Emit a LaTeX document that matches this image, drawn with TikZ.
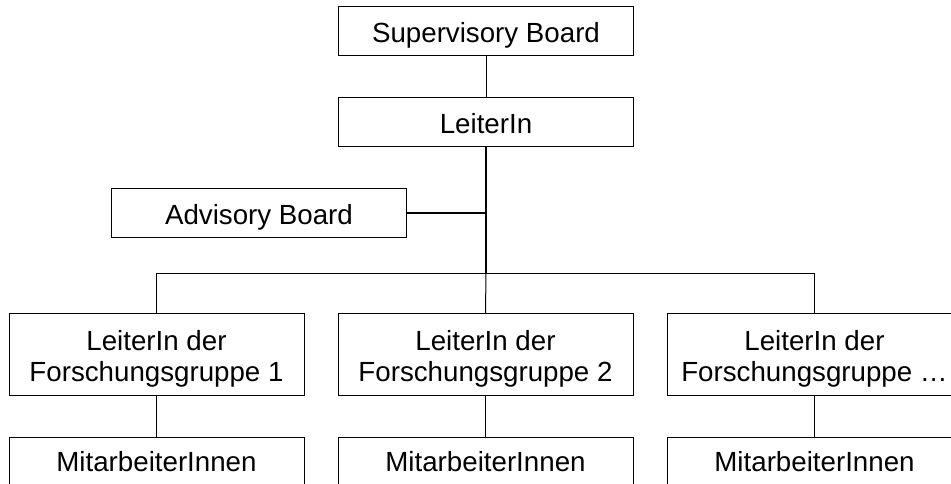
\documentclass[tikz,border=0pt]{standalone}
\usepackage{fontspec}
\setmainfont{Liberation Sans}
\begin{document}
\begin{tikzpicture}[x=1pt,y=-1pt,
  box/.style={draw=black,line width=1pt,fill=white,rectangle,inner sep=0pt,minimum width=295pt},
  sbox/.style={box,minimum height=49pt},
  tbox/.style={box,minimum height=82pt},
  txt/.style={inner sep=0pt,anchor=base,font=\fontsize{27.7}{31}\selectfont},
  thin/.style={line width=1pt},
  thick2/.style={line width=2pt}]
\useasboundingbox (0,0) rectangle (951,484);
\clip (0,0) rectangle (951,484);
% boxes
\node[sbox] (sup) at (486,31) {};
\node[sbox] (lei) at (486,122) {};
\node[sbox] (adv) at (259,213) {};
\node[tbox] (fg1) at (156.5,354.5) {};
\node[tbox] (fg2) at (485.5,354.5) {};
\node[tbox] (fg3) at (814.5,354.5) {};
\node[box,minimum height=60pt] (ma1) at (156.5,467.5) {};
\node[box,minimum height=60pt] (ma2) at (485.5,467.5) {};
\node[box,minimum height=60pt] (ma3) at (814.5,467.5) {};
% texts
\node[txt] (supt) at (486,43) {Supervisory Board};
\node[txt] (leit) at (486,134) {LeiterIn};
\node[txt] (advt) at (259,225) {Advisory Board};
\node[txt] (fg1a) at (156.5,350) {LeiterIn der};
\node[txt] (fg1b) at (156.5,381) {Forschungsgruppe 1};
\node[txt] (fg2a) at (485.5,350) {LeiterIn der};
\node[txt] (fg2b) at (485.5,381) {Forschungsgruppe 2};
\node[txt] (fg3a) at (814.5,350) {LeiterIn der};
\node[txt] (fg3b) at (814.5,381) {Forschungsgruppe \dots};
\node[txt] (ma1t) at (156.5,471) {MitarbeiterInnen};
\node[txt] (ma2t) at (485.5,471) {MitarbeiterInnen};
\node[txt] (ma3t) at (814.5,471) {MitarbeiterInnen};
% connectors
\coordinate (bus) at (486,273.5);
\coordinate (advj) at (486,213);
\draw[thin] (sup.south) -- (lei.north);
\draw[thick2] (lei.south) -- (bus);
\draw[thick2] (adv.east) -- (advj);
\draw[thin] (fg1.north) |- (bus) -| (fg3.north);
\draw[thin] (bus) -- (fg2.north);
\draw[thin] (fg1.south) -- (ma1.north);
\draw[thin] (fg2.south) -- (ma2.north);
\draw[thin] (fg3.south) -- (ma3.north);
\end{tikzpicture}
\end{document}
